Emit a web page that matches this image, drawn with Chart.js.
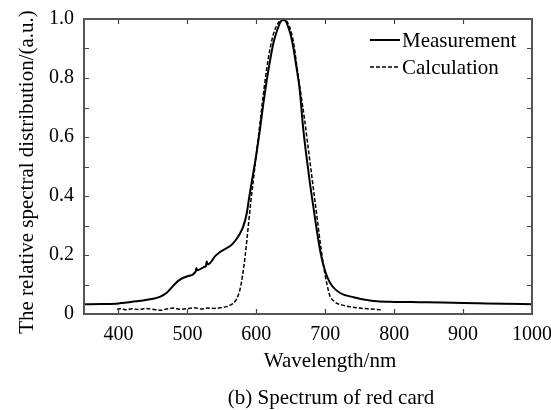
<!DOCTYPE html>
<html><head><meta charset="utf-8">
<script src="https://cdn.jsdelivr.net/npm/chart.js@4/dist/chart.umd.min.js"></script>
<style>html,body{margin:0;padding:0;background:#fff}</style>
</head><body>
<canvas id="c" width="551" height="410"></canvas>
<script>
// ---- data ----
const measWavelength = [350,375,400,425,450,460,470,480,488,500,512,513,514,525,527,528,530,541,548,556,563,570,575,581,586,590,595,600,605,610,615,620,625,630,635,638,642,646,650,654,658,663,668,673,678,683,688,693,698,703,710,721,730,741,750,762,775,800,838,870,900,934,960,1000];
const measValue      = [0.033,0.034,0.036,0.043,0.052,0.058,0.072,0.097,0.115,0.128,0.144,0.156,0.148,0.160,0.163,0.178,0.168,0.198,0.211,0.222,0.232,0.250,0.268,0.296,0.34,0.40,0.47,0.54,0.62,0.71,0.79,0.86,0.92,0.96,0.99,0.997,0.995,0.975,0.945,0.90,0.84,0.76,0.63,0.53,0.44,0.36,0.28,0.21,0.16,0.125,0.095,0.072,0.063,0.057,0.052,0.047,0.043,0.041,0.040,0.039,0.037,0.036,0.035,0.033];
const calcWavelength = [398,405,410,420,430,440,450,460,470,480,490,500,510,520,530,540,550,557,562,566,570,574,577,580,584,588,592,596,600,605,610,615,620,625,630,635,639,643,648,654,660,665,670,676,682,688,694,700,704,707,712,717,725,735,750,765,782];
const calcValue      = [0.016,0.019,0.014,0.018,0.015,0.019,0.016,0.013,0.017,0.020,0.016,0.018,0.021,0.017,0.020,0.019,0.022,0.025,0.030,0.035,0.045,0.065,0.09,0.13,0.20,0.29,0.38,0.46,0.54,0.64,0.74,0.83,0.90,0.95,0.98,0.995,1.0,0.995,0.975,0.92,0.82,0.74,0.66,0.55,0.44,0.33,0.22,0.13,0.085,0.06,0.045,0.036,0.030,0.025,0.020,0.017,0.014];
const xTickValues = [400,500,600,700,800,900,1000];
const yTickValues = [0,0.2,0.4,0.6,0.8,1.0];
const yTickMarks  = [0.1,0.2,0.3,0.4,0.5,0.6,0.7,0.8,0.9];
const seriesNames = ['Measurement','Calculation'];
const xTitle  = 'Wavelength/nm';
const yTitle  = 'The relative spectral distribution/(a.u.)';
const caption = '(b) Spectrum of red card';

const FONT = '"Liberation Serif","Times New Roman",serif';

const decorPlugin = {
  id: 'decor',
  afterDatasetsDraw(chart) {
    const {ctx, chartArea: a, scales: {x, y}} = chart;
    ctx.save();
    // inward tick marks
    ctx.strokeStyle = '#444';
    ctx.lineWidth = 1.2;
    ctx.beginPath();
    xTickValues.forEach(v => {
      const px = Math.round(x.getPixelForValue(v)) + 0.5;
      if (px > a.right - 2) return;
      ctx.moveTo(px, a.bottom); ctx.lineTo(px, a.bottom - 5);
      ctx.moveTo(px, a.top); ctx.lineTo(px, a.top + 5);
    });
    yTickMarks.forEach(v => {
      const py = Math.round(y.getPixelForValue(v)) + 0.5;
      ctx.moveTo(a.left, py); ctx.lineTo(a.left + 5, py);
      ctx.moveTo(a.right, py); ctx.lineTo(a.right - 5, py);
    });
    ctx.stroke();
    // frame
    ctx.strokeStyle = '#555';
    ctx.lineWidth = 2;
    ctx.strokeRect(a.left, a.top, a.right - a.left, a.bottom - a.top);
    // legend
    ctx.fillStyle = '#000';
    ctx.font = '21px ' + FONT;
    ctx.textBaseline = 'middle';
    ctx.textAlign = 'left';
    ctx.strokeStyle = '#000';
    ctx.lineWidth = 2;
    ctx.beginPath(); ctx.moveTo(370, 40); ctx.lineTo(400, 40); ctx.stroke();
    ctx.fillText(seriesNames[0], 402, 41);
    ctx.lineWidth = 1.5;
    ctx.setLineDash([4, 2]);
    ctx.beginPath(); ctx.moveTo(370, 67); ctx.lineTo(400, 67); ctx.stroke();
    ctx.setLineDash([]);
    ctx.fillText(seriesNames[1], 402, 68);
    // axis titles and caption
    ctx.textAlign = 'center';
    ctx.textBaseline = 'alphabetic';
    ctx.fillText(xTitle, 330, 367);
    ctx.fillText(caption, 331, 404);
    ctx.save();
    ctx.translate(33, 172);
    ctx.rotate(-Math.PI / 2);
    ctx.fillText(yTitle, 0, 0);
    ctx.restore();
    ctx.restore();
  }
};

new Chart(document.getElementById('c'), {
  type: 'line',
  data: {
    datasets: [
      {
        label: seriesNames[0],
        data: measWavelength.map((w, i) => ({x: w, y: measValue[i]})),
        borderColor: '#000', borderWidth: 2, pointRadius: 0,
        cubicInterpolationMode: 'monotone', fill: false
      },
      {
        label: seriesNames[1],
        data: calcWavelength.map((w, i) => ({x: w, y: calcValue[i]})),
        borderColor: '#000', borderWidth: 1.5, borderDash: [4, 2], pointRadius: 0,
        cubicInterpolationMode: 'monotone', fill: false
      }
    ]
  },
  options: {
    responsive: false,
    animation: false,
    clip: false,
    layout: {padding: {top: 19, right: 19, left: 0, bottom: 0}},
    plugins: {legend: {display: false}, tooltip: {enabled: false}},
    scales: {
      x: {
        type: 'linear', min: 350, max: 1000,
        afterBuildTicks: s => { s.ticks = xTickValues.map(v => ({value: v})); },
        afterFit: s => { s.height = 96; s.paddingLeft = 0; s.paddingRight = 0; },
        grid: {display: false, drawTicks: false},
        border: {display: false},
        ticks: {font: {family: FONT, size: 20}, color: '#000', padding: 9, maxRotation: 0, autoSkip: false,
          callback: v => String(v)}
      },
      y: {
        type: 'linear', min: 0, max: 1,
        afterBuildTicks: s => { s.ticks = yTickValues.map(v => ({value: v})); },
        afterFit: s => { s.width = 84; s.paddingTop = 0; s.paddingBottom = 0; },
        grid: {display: false, drawTicks: false},
        border: {display: false},
        ticks: {font: {family: FONT, size: 20}, color: '#000', padding: 10, autoSkip: false,
          callback: v => v === 0 ? '0' : v.toFixed(1)}
      }
    }
  },
  plugins: [decorPlugin]
});
</script>
</body></html>
